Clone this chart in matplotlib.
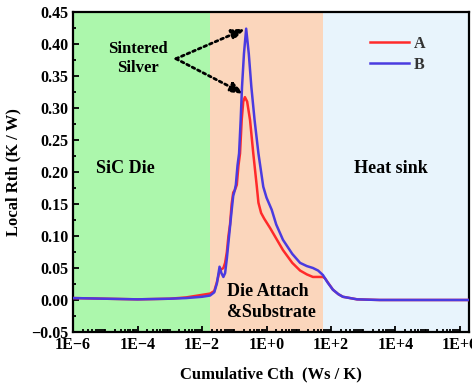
import numpy as np
import matplotlib
matplotlib.use("Agg")
import matplotlib.pyplot as plt
from matplotlib.ticker import FixedLocator, FuncFormatter, MultipleLocator, NullFormatter

plt.rcParams['font.family'] = ['Liberation Serif', 'DejaVu Serif']
plt.rcParams['font.weight'] = 'bold'

# Cumulative Cth (Ws/K) and local Rth (K/W)
cth_b = [1e-6, 1e-5, 1e-4, 1e-3, 3.2e-3, 1e-2, 1.78e-2, 2.4e-2, 2.9e-2, 3.5e-2,
         4.0e-2, 4.6e-2, 5.2e-2, 5.9e-2, 6.6e-2, 7.4e-2, 8.3e-2, 9.3e-2, 0.102, 0.112,
         0.126, 0.141, 0.158, 0.174, 0.2, 0.234, 0.282, 0.339, 0.427, 0.562, 0.794,
         1.0, 1.45, 2.0, 3.24, 6.3, 11.0, 17.8, 27.5, 39.8, 56.2, 79.4, 115, 170,
         234, 646, 3.2e3, 3.2e4, 3.2e5, 1.9e6]
rth_b = [0.003, 0.002, 0.001, 0.002, 0.003, 0.005, 0.007, 0.012, 0.026, 0.052,
         0.042, 0.036, 0.042, 0.065, 0.09, 0.115, 0.14, 0.163, 0.170, 0.18,
         0.21, 0.229, 0.281, 0.333, 0.385, 0.424, 0.385, 0.333, 0.281, 0.229, 0.177,
         0.160, 0.141, 0.118, 0.094, 0.072, 0.058, 0.053, 0.050, 0.046, 0.039, 0.027,
         0.016, 0.009, 0.005, 0.001, 0.0, 0.0, 0.0, 0.0]

cth_a = [1e-6, 1e-5, 1e-4, 1e-3, 3.2e-3, 1e-2, 1.78e-2, 2.4e-2, 2.9e-2, 3.5e-2,
         4.0e-2, 4.6e-2, 5.2e-2, 5.9e-2, 6.6e-2, 7.4e-2, 8.3e-2, 9.3e-2, 0.105, 0.12,
         0.135, 0.151, 0.17, 0.19, 0.214, 0.251, 0.309, 0.389, 0.501, 0.562,
         0.68, 0.85, 1.29, 3.24, 6.3, 11.0, 17.8, 27.5, 39.8, 56.2, 64.6, 115, 170,
         234, 646, 3.2e3, 3.2e4, 3.2e5, 1.9e6]
rth_a = [0.003, 0.002, 0.001, 0.002, 0.004, 0.008, 0.010, 0.014, 0.028, 0.045,
         0.048, 0.050, 0.058, 0.075, 0.10, 0.118, 0.15, 0.168, 0.172, 0.18,
         0.21, 0.229, 0.281, 0.31, 0.317, 0.31, 0.281, 0.229, 0.177, 0.152,
         0.136, 0.127, 0.1125, 0.078, 0.058, 0.046, 0.040, 0.036, 0.036, 0.036,
         0.034, 0.016, 0.009, 0.005, 0.001, 0.0, 0.0, 0.0, 0.0]

# region boundaries
x_min, x_die, x_attach, x_max = 1e-6, 1.78e-2, 56.2, 1.9e6

fig = plt.figure(figsize=(4.72, 3.85), dpi=100)
ax = fig.add_axes([0.1547, 0.1377, 0.8389, 0.8311])

ax.axvspan(x_min, x_die, color='#acf7ac', lw=0, zorder=0)
ax.axvspan(x_die, x_attach, color='#fbd6bc', lw=0, zorder=0)
ax.axvspan(x_attach, x_max, color='#e8f4fc', lw=0, zorder=0)

ax.plot(cth_a, rth_a, color='#ff2a2a', lw=1.8, label='A', zorder=3)
ax.plot(cth_b, rth_b, color='#4a3be0', lw=1.8, label='B', zorder=4)

ax.set_xscale('log')
ax.set_xlim(x_min, x_max)
ax.set_ylim(-0.05, 0.45)

major = [10.0 ** k for k in range(-6, 7, 2)]
minor = [m * 10.0 ** k for k in range(-6, 7) for m in range(1, 10)]
ax.xaxis.set_major_locator(FixedLocator(major))
ax.xaxis.set_minor_locator(FixedLocator(minor))
ax.xaxis.set_minor_formatter(NullFormatter())


def fmt_x(v, pos):
    e = int(round(np.log10(v)))
    return "1E\u2212%d" % -e if e < 0 else "1E+%d" % e


def fmt_y(v, pos):
    s = "%.2f" % v
    return s.replace('-', '\u2212')


ax.xaxis.set_major_formatter(FuncFormatter(fmt_x))
ax.yaxis.set_major_locator(MultipleLocator(0.05))
ax.yaxis.set_minor_locator(MultipleLocator(0.025))
ax.yaxis.set_major_formatter(FuncFormatter(fmt_y))
ax.tick_params(which='both', direction='in', labelsize=11.5, width=1.3)
ax.tick_params(which='major', length=4)
ax.tick_params(which='minor', length=2.5)
for s in ax.spines.values():
    s.set_linewidth(1.6)

ax.set_xlabel('Cumulative Cth  (Ws / K)', fontsize=12, fontweight='bold', labelpad=10)
ax.set_ylabel('Local Rth (K / W)', fontsize=12, fontweight='bold', labelpad=7)

ax.text(4.1e-5, 0.206, 'SiC Die', fontsize=13, fontweight='bold', ha='center', va='center')
ax.text(7.2e3, 0.206, 'Heat sink', fontsize=13, fontweight='bold', ha='center', va='center')
ax.text(6.0e-2, -0.003, 'Die Attach\n&Substrate', fontsize=13, fontweight='bold',
        ha='left', va='center', linespacing=1.3)
ax.text(1.0e-4, 0.378, 'Sintered\nSilver', fontsize=12, fontweight='bold',
        ha='center', va='center', linespacing=1.25)

arrow = dict(arrowstyle='-|>,head_length=0.8,head_width=0.3', linestyle=(0, (1, 1.2)),
             lw=2, color='k', shrinkA=0, shrinkB=0)
ax.annotate('', xy=(0.224, 0.424), xytext=(1.55e-3, 0.377), arrowprops=arrow)
ax.annotate('', xy=(0.2, 0.322), xytext=(1.55e-3, 0.377), arrowprops=arrow)

leg = ax.legend(loc='upper right', bbox_to_anchor=(0.925, 0.97), frameon=False,
                fontsize=11.5, handlelength=2.4, handletextpad=0.3, labelspacing=0.3)
for t in leg.get_texts():
    t.set_color('#333333')

fig.savefig('out.png', dpi=100)
